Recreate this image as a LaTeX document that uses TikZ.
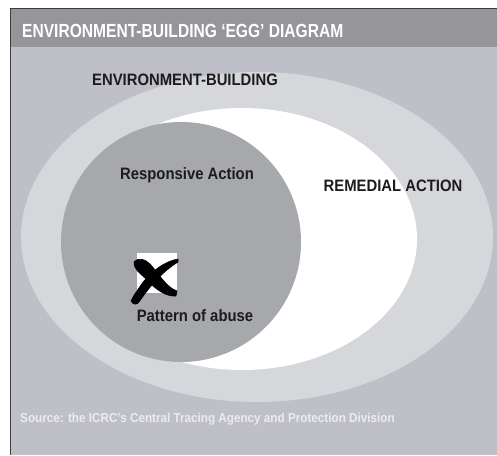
\documentclass[tikz,border=0pt]{standalone}
\usepackage{fontspec}
\setmainfont{Liberation Sans}
\newfontfamily\narrowfont[FakeStretch=0.9]{Liberation Sans}
\newfontfamily\titlefont[FakeStretch=0.82]{Liberation Sans}
\usepackage{xcolor}
\definecolor{barGray}{HTML}{95959A}
\definecolor{bodyGray}{HTML}{BEBFC7}
\definecolor{outerGray}{HTML}{D6D7DA}
\definecolor{circleGray}{HTML}{A7A8AB}
\definecolor{frameGray}{HTML}{3C3C3E}
\definecolor{textDark}{HTML}{1C1C1C}
\definecolor{sourceText}{HTML}{ECECF0}

\tikzset{
    eggLabel/.style={text=textDark, inner sep=0pt, anchor=base,
        font=\narrowfont\bfseries\fontsize{16.5}{18}\selectfont},
    xStroke/.style={fill=black, draw=black, line width=0.6pt, line join=round}
}

\begin{document}
\begin{tikzpicture}[x=1pt, y=-1pt]
            \useasboundingbox (0,0) rectangle (497,455);

            % Hintergrund und Titelleiste
            \fill[bodyGray] (10,9) rectangle (497,455);
            \fill[barGray] (10,9) rectangle (497,47);
            \draw[frameGray, line width=1.6pt] (10.5,455) -- (10.5,8.5) -- (497,8.5);
            \node[anchor=base west, inner sep=0pt, text=white,
                  font=\titlefont\bfseries\fontsize{19}{21}\selectfont]
                (title) at (22,37) {ENVIRONMENT-BUILDING ‘EGG’ DIAGRAM};

            % Ei: aussen, weiss, Kreis
            \fill[outerGray] (257,237) ellipse (236 and 165);
            \fill[white] (242,239) ellipse (175 and 131);
            \fill[circleGray] (181,242) circle (120);

            % Beschriftungen
            \node[eggLabel] (envbuild) at (185,85) {ENVIRONMENT-BUILDING};
            \node[eggLabel] (responsive) at (187,179) {Responsive Action};
            \node[eggLabel] (remedial) at (393,191) {REMEDIAL ACTION};
            \node[eggLabel] (pattern) at (195,321) {Pattern of abuse};

            % Kreuz im Kaestchen
            \fill[white] (136.7,253) rectangle (176.7,293);
            \filldraw[xStroke] (134,262) .. controls (139,257) and (145,259) .. (150,264)
                .. controls (160,275) and (166,287) .. (177,291) -- (176,296)
                .. controls (166,297) and (155,289) .. (146,279)
                .. controls (140,273) and (134,270) .. cycle;
            \filldraw[xStroke] (178,259) .. controls (165,261) and (150,272) .. (141,285)
                .. controls (137,291) and (133,296) .. (131,301)
                .. controls (133,305) and (137,305) .. (139,302)
                .. controls (150,286) and (162,272) .. (178,262) -- cycle;

            % Quelle
            \node[anchor=base west, inner sep=0pt, text=sourceText,
                  font=\narrowfont\bfseries\fontsize{13}{15}\selectfont]
                (source) at (20,422) {Source: the ICRC’s Central Tracing Agency and Protection Division};
        \end{tikzpicture}
\end{document}
